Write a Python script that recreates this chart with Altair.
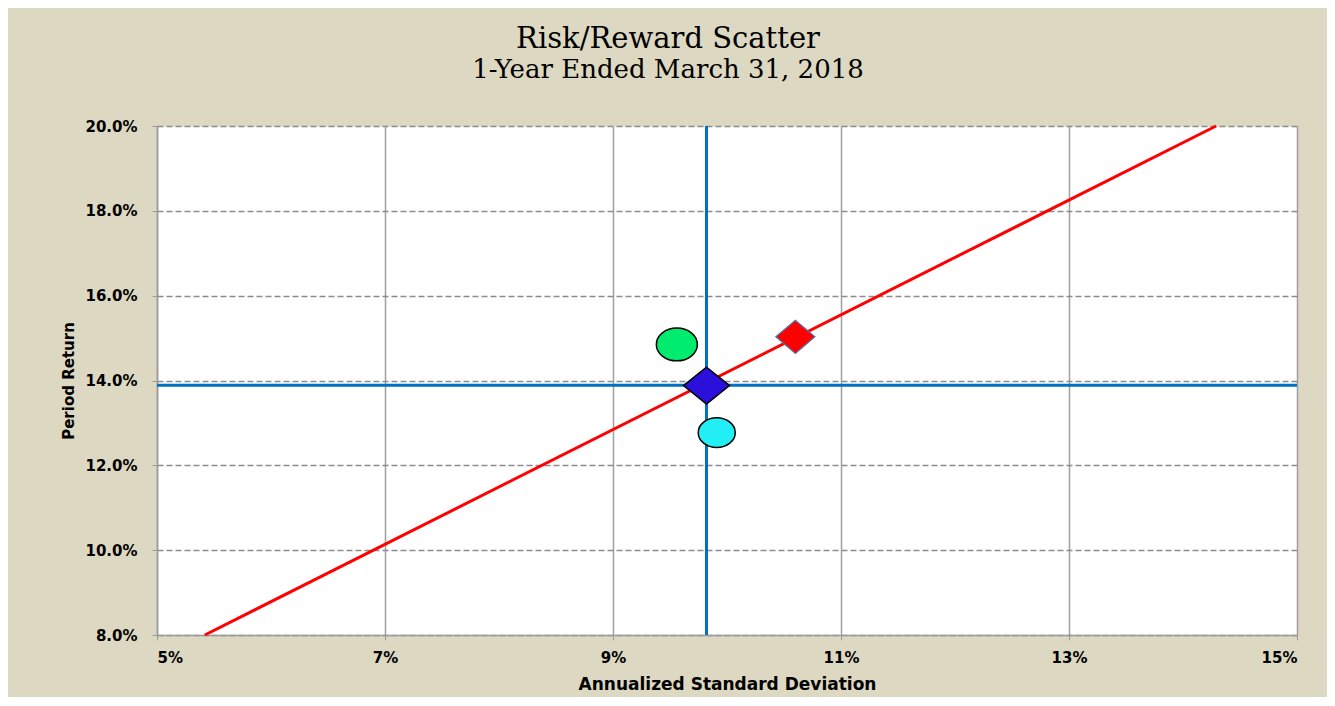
import altair as alt
import pandas as pd

# ---- data ----
point_names = ["Green", "Red", "Blue", "Cyan"]
point_sd = [9.56, 10.60, 9.82, 9.91]
point_ret = [14.85, 15.03, 13.88, 12.77]

fit_sd = [5.42, 14.29]
fit_ret = [8.0, 20.0]

median_sd = [9.82]
median_ret = [13.89]

x_ticks = [5, 7, 9, 11, 13, 15]
y_ticks = [8, 10, 12, 14, 16, 18, 20]

# ---- styles ----
ELLIPSE = "M -1 0 A 1 0.8 0 1 1 1 0 A 1 0.8 0 1 1 -1 0 Z"
DIAMOND = "M -1 0 L 0 -0.8 L 1 0 L 0 0.8 Z"
styles = {
    "Green": dict(shape=ELLIPSE, fill="#00EC6E", stroke="#000000", size=1681, sw=1.5),
    "Red": dict(shape="M -1 0 L 0 -0.85 L 1 0 L 0 0.85 Z", fill="#FF0000", stroke="#4F74A8", size=1521, sw=1.2),
    "Blue": dict(shape=DIAMOND, fill="#2A10DA", stroke="#000000", size=2116, sw=1.5),
    "Cyan": dict(shape=ELLIPSE, fill="#22EEF6", stroke="#000000", size=1369, sw=1.5),
}

xs = alt.Scale(domain=[5, 15], nice=False, zero=False)
ys = alt.Scale(domain=[8, 20], nice=False, zero=False)

x_axis = alt.Axis(values=x_ticks, labelExpr="datum.value + '%'",
                  title="Annualized Standard Deviation",
                  grid=True, gridColor="#a0a0a0", gridWidth=1.5,
                  domainColor="#9a9a9a", domainWidth=1.5,
                  tickColor="#9a9a9a", tickSize=5, labelPadding=10,
                  titlePadding=11)
y_axis = alt.Axis(values=y_ticks, labelExpr="format(datum.value, '.1f') + '%'",
                  title="Period Return",
                  grid=True, gridColor="#8c8c8c", gridWidth=1.5, gridDash=[6, 3],
                  domainColor="#9a9a9a", domainWidth=1.5,
                  tickColor="#9a9a9a", tickSize=5, labelPadding=15,
                  titlePadding=8)

fit_df = pd.DataFrame({"sd": fit_sd, "ret": fit_ret})
vline_df = pd.DataFrame({"sd": median_sd})
hline_df = pd.DataFrame({"ret": median_ret})
pts_df = pd.DataFrame({"name": point_names, "sd": point_sd, "ret": point_ret})

base_axes = alt.Chart(fit_df).mark_line(opacity=0).encode(
    x=alt.X("sd:Q", scale=xs, axis=x_axis),
    y=alt.Y("ret:Q", scale=ys, axis=y_axis),
)

vline = alt.Chart(vline_df).mark_rule(color="#0070C0", strokeWidth=3).encode(
    x=alt.X("sd:Q", scale=xs))
hline = alt.Chart(hline_df).mark_rule(color="#0070C0", strokeWidth=3).encode(
    y=alt.Y("ret:Q", scale=ys))

fit = alt.Chart(fit_df).mark_line(color="#FF0000", strokeWidth=3).encode(
    x=alt.X("sd:Q", scale=xs), y=alt.Y("ret:Q", scale=ys))

layers = [base_axes, vline, hline, fit]
for name in point_names:
    st = styles[name]
    layers.append(
        alt.Chart(pts_df[pts_df["name"] == name]).mark_point(
            shape=st["shape"], filled=True, fill=st["fill"], stroke=st["stroke"],
            strokeWidth=st["sw"], size=st["size"], opacity=1,
        ).encode(x=alt.X("sd:Q", scale=xs), y=alt.Y("ret:Q", scale=ys))
    )

chart = alt.layer(*layers).properties(
    width=1140, height=509,
    autosize="none",
    padding={"left": 149, "top": 118, "right": 30, "bottom": 62},
    background="#DDD8C2",
    title=alt.TitleParams(
        text="Risk/Reward Scatter",
        subtitle="1-Year Ended March 31, 2018",
        font="DejaVu Serif", fontSize=29, fontWeight="normal", color="#000000",
        subtitleFont="DejaVu Serif", subtitleFontSize=26, subtitleColor="#000000",
        subtitlePadding=3, anchor="middle", dx=-59, offset=36,
    ),
).configure_view(
    fill="#FFFFFF", stroke="transparent"
).configure_axis(
    labelFont="DejaVu Sans", labelFontWeight="bold", labelFontSize=15, labelColor="#000000",
    titleFont="DejaVu Sans", titleFontWeight="bold", titleColor="#000000",
).configure_axisX(
    titleFontSize=17,
).configure_axisY(
    titleFontSize=15,
)

chart.save("out.html", embed_options={"renderer": "svg", "actions": False})
